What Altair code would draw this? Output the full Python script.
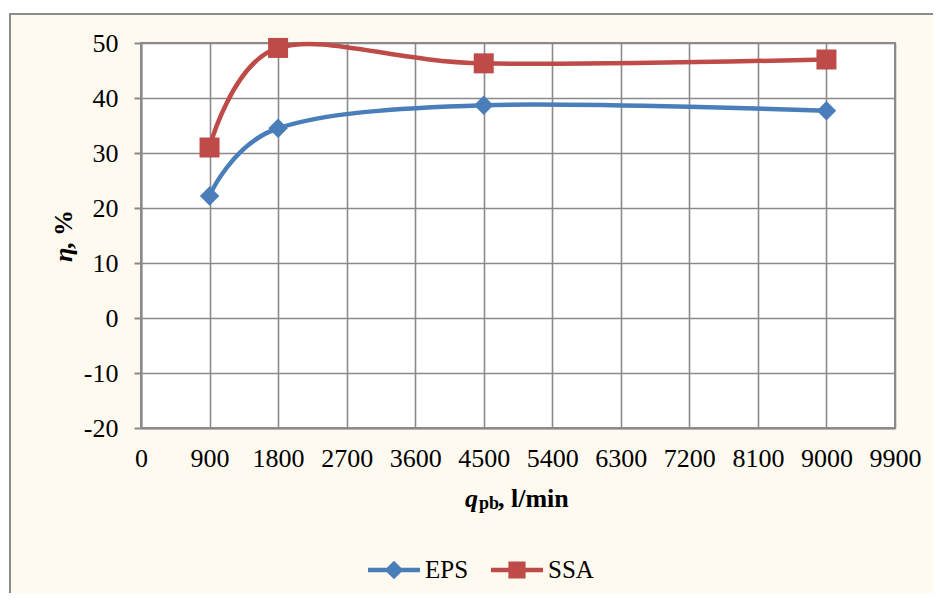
import altair as alt
import pandas as pd

# ---- data ----
x_vals = [900, 1800, 4500, 9000]
eps_vals = [22.2, 34.5, 38.7, 37.7]
ssa_vals = [31.0, 49.1, 46.3, 47.0]
series_names = ["EPS", "SSA"]
series_colors = ["#4A7EBB", "#BE4B48"]
x_ticks = list(range(0, 9901, 900))
y_ticks = list(range(-20, 51, 10))

df = pd.DataFrame({
    "q": x_vals + x_vals,
    "eta": eps_vals + ssa_vals,
    "series": [series_names[0]] * len(x_vals) + [series_names[1]] * len(x_vals),
})

W, H = 754, 385
FONT = "Liberation Serif"
GRID = "#8a8a8a"
CREAM = "#FEFAF0"

x_enc = alt.X(
    "q:Q",
    scale=alt.Scale(domain=[0, 9900], nice=False, zero=False),
    axis=alt.Axis(values=x_ticks, title=None, ticks=False, labelPadding=17,
                  labelFontSize=26, labelFont=FONT, labelColor="black",
                  labelFlush=False, labelExpr="'' + datum.value", grid=True),
)
y_enc = alt.Y(
    "eta:Q",
    scale=alt.Scale(domain=[-20, 50], nice=False, zero=False),
    axis=alt.Axis(values=y_ticks, title=None, ticks=True, tickSize=7, labelPadding=16,
                  labelFontSize=26, labelFont=FONT, labelColor="black",
                  labelFlush=False, labelExpr="'' + datum.value", grid=True),
)

one = alt.Data(values=[{"k": 1}])

# outer frame (white page strips + grey border of the chart area)
strip_top = alt.Chart(one).mark_rect(color="white").encode(
    x=alt.value(-140), x2=alt.value(2000), y=alt.value(-40), y2=alt.value(-30))
strip_left = alt.Chart(one).mark_rect(color="white").encode(
    x=alt.value(-140), x2=alt.value(-132), y=alt.value(-40), y2=alt.value(2000))
border = alt.Chart(one).mark_rect(fill=None, stroke="#8c8c8c", strokeWidth=2).encode(
    x=alt.value(-131), x2=alt.value(2000), y=alt.value(-29), y2=alt.value(2000))

layers = [strip_top, strip_left, border]

shapes = ["diamond", "square"]
sizes = [380, 400]
for name, col, shp, sz in zip(series_names, series_colors, shapes, sizes):
    base = alt.Chart(df).transform_filter(alt.datum.series == name)
    layers.append(base.mark_line(interpolate="cardinal", color=col, strokeWidth=4.5).encode(x=x_enc, y=y_enc))
    layers.append(base.mark_point(shape=shp, filled=True, size=sz, color=col, opacity=1).encode(x=x_enc, y=y_enc))

# legend symbols: line with marker
path_d = "M-1,-0.09L1,-0.09L1,0.09L-1,0.09Z M0,-0.36L0.36,0L0,0.36L-0.36,0Z"
path_s = "M-1,-0.09L1,-0.09L1,0.09L-1,0.09Z M-0.33,-0.33L0.33,-0.33L0.33,0.33L-0.33,0.33Z"
leg = alt.Legend(orient="none", legendX=227, legendY=501, direction="horizontal", title=None,
                 symbolSize=2704, symbolStrokeWidth=0, symbolOpacity=1, labelFont=FONT,
                 labelFontSize=25, labelColor="black", labelOffset=5, columnPadding=22,
                 padding=0)
phantom = alt.Chart(df).mark_point(filled=True, opacity=0).encode(
    x=x_enc, y=y_enc,
    color=alt.Color("series:N", scale=alt.Scale(domain=series_names, range=series_colors), legend=leg),
    shape=alt.Shape("series:N", scale=alt.Scale(domain=series_names, range=[path_d, path_s]), legend=leg),
)
layers.append(phantom)

# axis titles as text
t_q = alt.Chart(one).mark_text(text="q", font=FONT, fontSize=26, fontWeight="bold", fontStyle="italic",
                               align="left", baseline="alphabetic", color="black").encode(
    x=alt.value(324), y=alt.value(464))
t_pb = alt.Chart(one).mark_text(text="pb", font=FONT, fontSize=18, fontWeight="bold",
                                align="left", baseline="alphabetic", color="black").encode(
    x=alt.value(338), y=alt.value(466))
t_unit = alt.Chart(one).mark_text(text=", l/min", font=FONT, fontSize=26, fontWeight="bold",
                                  align="left", baseline="alphabetic", color="black").encode(
    x=alt.value(357), y=alt.value(464))
t_eta = alt.Chart(one).mark_text(text="η", font=FONT, fontSize=26, fontWeight="bold", fontStyle="italic",
                                 align="left", baseline="alphabetic", angle=270, color="black").encode(
    x=alt.value(-69), y=alt.value(219))
t_pct = alt.Chart(one).mark_text(text=", %", font=FONT, fontSize=26, fontWeight="bold",
                                 align="left", baseline="alphabetic", angle=270, color="black").encode(
    x=alt.value(-69), y=alt.value(206))
layers += [t_q, t_pb, t_unit, t_eta, t_pct]

chart = alt.layer(*layers).properties(
    width=W, height=H,
    padding={"left": 133, "top": 35, "right": 38, "bottom": 165},
    autosize=alt.AutoSizeParams(type="none"),
    background=CREAM,
).configure_view(
    fill="white", stroke=GRID, strokeWidth=2,
).configure_axis(
    domainColor=GRID, domainWidth=2, gridColor=GRID, gridWidth=1.6,
    tickColor=GRID, tickWidth=2, gridOpacity=1,
)

chart.save("out.html", embed_options={"renderer": "svg", "actions": False})
